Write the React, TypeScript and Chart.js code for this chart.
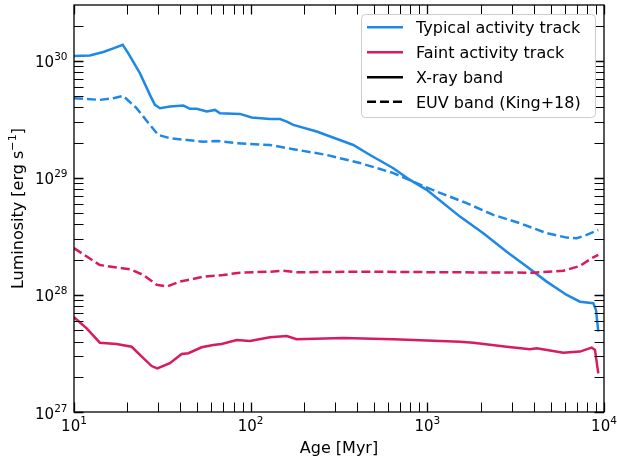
import React, { useEffect, useRef } from "react";
import { Chart, registerables } from "chart.js";

Chart.register(...registerables);

// ---------- data ----------
const ageTypicalXray = [10, 12.3, 14.65, 16.7, 18.87, 20.3, 23.6, 26.9, 28.7, 30.7, 34.9, 41.6, 45.3, 49.5, 56.4, 62.8, 67.1, 87.0, 101.3, 128.7, 146.6, 160, 174.3, 236.5, 381, 474, 642, 798, 992, 1179, 1530, 2074, 2813, 3651, 4738, 6150, 7313, 8697, 9010, 9284];
const lumTypicalXray = [1.1e30, 1.11e30, 1.19e30, 1.28e30, 1.37e30, 1.16e30, 7.85e29, 5.12e29, 4.21e29, 3.94e29, 4.07e29, 4.15e29, 3.89e29, 3.89e29, 3.69e29, 3.81e29, 3.57e29, 3.52e29, 3.28e29, 3.19e29, 3.18e29, 3.03e29, 2.84e29, 2.49e29, 1.91e29, 1.57e29, 1.21e29, 9.61e28, 7.9e28, 6.42e28, 4.67e28, 3.37e28, 2.34e28, 1.75e28, 1.3e28, 1.0e28, 8.76e27, 8.49e27, 7.44e27, 4.86e27];

const ageTypicalEuv = [10, 14.0, 16.7, 19.0, 22.6, 26.9, 30.0, 34.9, 43.5, 53.9, 64.2, 83.4, 128.7, 174.3, 269.4, 415.7, 642, 871, 1130, 1671, 2363, 3346, 4738, 6150, 7004, 7980, 9284];
const lumTypicalEuv = [4.8e29, 4.64e29, 4.8e29, 5.02e29, 3.94e29, 2.84e29, 2.33e29, 2.18e29, 2.11e29, 2.04e29, 2.07e29, 1.98e29, 1.91e29, 1.76e29, 1.57e29, 1.34e29, 1.1e29, 9.01e28, 7.64e28, 6.08e28, 4.83e28, 4.1e28, 3.37e28, 3.09e28, 3.05e28, 3.26e28, 3.59e28];

const ageFaintXray = [10, 11.8, 14.0, 17.4, 21.2, 24.2, 27.5, 29.6, 34.9, 40.7, 44.4, 52.8, 61.4, 68.5, 83.4, 99.1, 128.7, 160, 182, 334, 642, 1530, 1821, 2813, 3811, 4159, 5883, 7313, 8518, 8892, 9284];
const lumFaintXray = [6.45e27, 5.19e27, 3.91e27, 3.81e27, 3.61e27, 2.97e27, 2.47e27, 2.36e27, 2.61e27, 3.13e27, 3.18e27, 3.57e27, 3.74e27, 3.81e27, 4.12e27, 4.05e27, 4.35e27, 4.46e27, 4.18e27, 4.29e27, 4.18e27, 3.99e27, 3.91e27, 3.61e27, 3.44e27, 3.5e27, 3.21e27, 3.28e27, 3.55e27, 3.39e27, 2.14e27];

const ageFaintEuv = [10, 14.0, 20.7, 24.7, 29.4, 33.5, 39.8, 53.9, 70.0, 87.0, 128.7, 153, 182, 416, 1530, 3980, 5883, 7313, 8518, 9284];
const lumFaintEuv = [2.51e28, 1.8e28, 1.66e28, 1.48e28, 1.22e28, 1.18e28, 1.3e28, 1.43e28, 1.48e28, 1.55e28, 1.58e28, 1.61e28, 1.56e28, 1.58e28, 1.56e28, 1.55e28, 1.61e28, 1.77e28, 2.06e28, 2.2e28];

const xMajorTicks = [10, 100, 1000, 10000];
const xTickExponents = ["1", "2", "3", "4"];
const yMajorTicks = [1e27, 1e28, 1e29, 1e30];
const yTickExponents = ["27", "28", "29", "30"];

const xTitle = "Age [Myr]";
const yTitleMain = "Luminosity [erg s";
const yTitleSup = "\u22121";
const yTitleEnd = "]";

const legendLabels = ["Typical activity track", "Faint activity track", "X-ray band", "EUV band (King+18)"];

const BLUE = "#1E88E5";
const PINK = "#D81B60";
const FONT = '"DejaVu Sans"';

function pts(ages: number[], lums: number[]) {
  return ages.map((a, i) => ({ x: a, y: lums[i] }));
}

function minorTicks(min: number, max: number) {
  const out: number[] = [];
  for (let d = min; d < max; d *= 10) {
    for (let k = 2; k <= 9; k++) {
      const v = d * k;
      if (v <= max * 1.0001) out.push(v);
    }
  }
  return out;
}

function drawSup(ctx: CanvasRenderingContext2D, base: string, exp: string, x: number, y: number, align: "center" | "right") {
  const bs = 15, ss = 10.5;
  ctx.font = `${bs}px ${FONT}`;
  const wb = ctx.measureText(base).width;
  ctx.font = `${ss}px ${FONT}`;
  const we = ctx.measureText(exp).width;
  const total = wb + we;
  const x0 = align === "center" ? x - total / 2 : x - total;
  ctx.textAlign = "left";
  ctx.textBaseline = "alphabetic";
  ctx.font = `${bs}px ${FONT}`;
  ctx.fillText(base, x0, y);
  ctx.font = `${ss}px ${FONT}`;
  ctx.fillText(exp, x0 + wb, y - 7);
}

const framePlugin = {
  id: "mplFrame",
  afterDraw(chart: any) {
    const ctx: CanvasRenderingContext2D = chart.ctx;
    const { left, right, top, bottom } = chart.chartArea;
    const xs = chart.scales.x;
    const ys = chart.scales.y;
    ctx.save();
    ctx.fillStyle = "#000";
    ctx.strokeStyle = "#000";

    const tickLen = 9.5;
    const xTick = (v: number, lw: number) => {
      const px = Math.round(xs.getPixelForValue(v)) + 0.5;
      ctx.lineWidth = lw;
      ctx.beginPath();
      ctx.moveTo(px, bottom);
      ctx.lineTo(px, bottom - tickLen);
      ctx.moveTo(px, top);
      ctx.lineTo(px, top + tickLen);
      ctx.stroke();
    };
    const yTick = (v: number, lw: number) => {
      const py = Math.round(ys.getPixelForValue(v)) + 0.5;
      ctx.lineWidth = lw;
      ctx.beginPath();
      ctx.moveTo(left, py);
      ctx.lineTo(left + tickLen, py);
      ctx.moveTo(right, py);
      ctx.lineTo(right - tickLen, py);
      ctx.stroke();
    };
    minorTicks(10, 10000).forEach((v) => xTick(v, 1));
    xMajorTicks.forEach((v) => xTick(v, 1.3));
    minorTicks(1e27, 3e30).forEach((v) => { if (v < 3e30 * 0.99) yTick(v, 1); });
    yMajorTicks.forEach((v) => yTick(v, 1.3));

    // frame
    ctx.lineWidth = 1.3;
    ctx.strokeRect(left, top, right - left, bottom - top);

    // tick labels
    xMajorTicks.forEach((v, i) => {
      drawSup(ctx, "10", xTickExponents[i], xs.getPixelForValue(v), bottom + 19, "center");
    });
    yMajorTicks.forEach((v, i) => {
      drawSup(ctx, "10", yTickExponents[i], left - 6.5, ys.getPixelForValue(v) + 6.5, "right");
    });

    // axis titles
    ctx.font = `16px ${FONT}`;
    ctx.textAlign = "center";
    ctx.textBaseline = "alphabetic";
    ctx.fillText(xTitle, (left + right) / 2, 452.5);

    ctx.save();
    const cy = (top + bottom) / 2;
    ctx.translate(22.5, cy);
    ctx.rotate(-Math.PI / 2);
    ctx.font = `16px ${FONT}`;
    const w1 = ctx.measureText(yTitleMain).width;
    const w3 = ctx.measureText(yTitleEnd).width;
    ctx.font = `11.2px ${FONT}`;
    const w2 = ctx.measureText(yTitleSup).width;
    const tot = w1 + w2 + w3;
    let xx = -tot / 2;
    ctx.textAlign = "left";
    ctx.font = `16px ${FONT}`;
    ctx.fillText(yTitleMain, xx, 0);
    xx += w1;
    ctx.font = `11.2px ${FONT}`;
    ctx.fillText(yTitleSup, xx, -7);
    xx += w2;
    ctx.font = `16px ${FONT}`;
    ctx.fillText(yTitleEnd, xx, 0);
    ctx.restore();

    // legend
    const lx = 361.5, ly = 14.5, lw = 234, lh = 103, r = 4;
    ctx.beginPath();
    ctx.moveTo(lx + r, ly);
    ctx.lineTo(lx + lw - r, ly);
    ctx.arcTo(lx + lw, ly, lx + lw, ly + r, r);
    ctx.lineTo(lx + lw, ly + lh - r);
    ctx.arcTo(lx + lw, ly + lh, lx + lw - r, ly + lh, r);
    ctx.lineTo(lx + r, ly + lh);
    ctx.arcTo(lx, ly + lh, lx, ly + lh - r, r);
    ctx.lineTo(lx, ly + r);
    ctx.arcTo(lx, ly, lx + r, ly, r);
    ctx.closePath();
    ctx.fillStyle = "rgba(255,255,255,0.8)";
    ctx.fill();
    ctx.strokeStyle = "#cccccc";
    ctx.lineWidth = 1;
    ctx.stroke();

    const rows = [27.3, 52.3, 77.3, 101.7];
    const colors = [BLUE, PINK, "#000", "#000"];
    const dashes = [[], [], [], [9, 4]];
    rows.forEach((ry, i) => {
      ctx.strokeStyle = colors[i];
      ctx.lineWidth = 2.6;
      ctx.setLineDash(dashes[i]);
      ctx.beginPath();
      ctx.moveTo(367, ry);
      ctx.lineTo(403, ry);
      ctx.stroke();
      ctx.setLineDash([]);
      ctx.fillStyle = "#000";
      ctx.font = `16px ${FONT}`;
      ctx.textAlign = "left";
      ctx.textBaseline = "alphabetic";
      ctx.fillText(legendLabels[i], 416, ry + 6);
    });

    ctx.restore();
  },
};

export default function App() {
  const ref = useRef<HTMLCanvasElement | null>(null);
  useEffect(() => {
    if (!ref.current) return;
    const common = { showLine: true, pointRadius: 0, borderWidth: 2.5, tension: 0, fill: false };
    const chart = new Chart(ref.current, {
      type: "scatter",
      data: {
        datasets: [
          { ...common, label: "Faint EUV", data: pts(ageFaintEuv, lumFaintEuv), borderColor: PINK, borderDash: [9, 4] },
          { ...common, label: "Faint X-ray", data: pts(ageFaintXray, lumFaintXray), borderColor: PINK },
          { ...common, label: "Typical EUV", data: pts(ageTypicalEuv, lumTypicalEuv), borderColor: BLUE, borderDash: [9, 4] },
          { ...common, label: "Typical X-ray", data: pts(ageTypicalXray, lumTypicalXray), borderColor: BLUE },
        ] as any,
      },
      options: {
        responsive: false,
        animation: false,
        devicePixelRatio: 1,
        layout: { padding: { top: 5, right: 13, left: 0, bottom: 0 } },
        plugins: { legend: { display: false }, tooltip: { enabled: false } },
        scales: {
          x: {
            type: "logarithmic",
            min: 10,
            max: 10000,
            grid: { display: false },
            border: { display: false },
            ticks: { display: false },
            afterFit: (s: any) => { s.height = 46; },
          },
          y: {
            type: "logarithmic",
            min: 1e27,
            max: 3e30,
            grid: { display: false },
            border: { display: false },
            ticks: { display: false },
            afterFit: (s: any) => { s.width = 74; },
          },
        },
      } as any,
      plugins: [framePlugin],
    });
    return () => chart.destroy();
  }, []);
  return (
    <div style={{ position: "fixed", left: 0, top: 0, width: 617, height: 458, background: "#fff" }}>
      <canvas ref={ref} width={617} height={458} style={{ width: 617, height: 458, display: "block" }} />
    </div>
  );
}
